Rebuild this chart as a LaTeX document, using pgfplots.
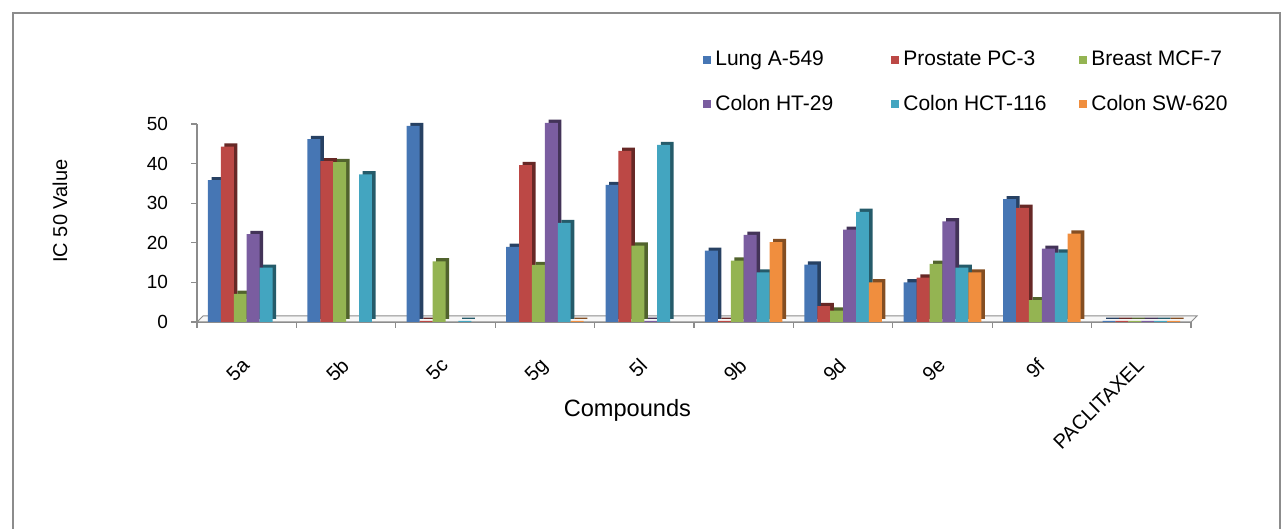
\documentclass[border=0pt]{standalone}
\usepackage{pgfplots}
\pgfplotsset{compat=1.18}
\usepackage{fontspec}
\setmainfont{Liberation Sans}
\definecolor{cA}{HTML}{4676B4}
\definecolor{cB}{HTML}{BC4845}
\definecolor{cC}{HTML}{94B452}
\definecolor{cD}{HTML}{7A5DA0}
\definecolor{cE}{HTML}{43A5C0}
\definecolor{cF}{HTML}{F08E3E}
\definecolor{frame}{HTML}{8C8C8C}
\begin{document}
\begin{tikzpicture}
\useasboundingbox (0,0) rectangle (643pt,264.5pt);
\draw[frame, line width=0.8pt] (6.5pt,-2pt) -- (6.5pt,258pt) -- (640pt,258pt) -- (640pt,-2pt);
\begin{axis}[
  at={(98.5pt,103.5pt)}, anchor=south west,
  scale only axis, width=497pt, height=99pt,
  xmin=-0.5, xmax=9.5, ymin=0, ymax=50,
  clip=false,
  axis x line*=bottom, axis y line*=left,
  axis line style={frame, line width=0.6pt},
  every tick/.style={frame, line width=0.6pt},
  tick align=outside,
  major tick length=3pt, minor tick length=3pt,
  xtick={0,...,9},
  xticklabels={5a,5b,5c,5g,5l,9b,9d,9e,9f,PACLITAXEL},
  major x tick style={draw=none},
  minor xtick={-0.5,0.5,...,9.5},
  ytick={0,10,...,50},
  /pgf/number format/assume math mode=true,
  tick label style={font=\fontsize{9.5}{11}\selectfont},
  xticklabel style={font=\fontsize{10}{12}\selectfont, xshift=-3pt, yshift=-9.5pt, rotate=45, anchor=north east},
  yticklabel style={xshift=-8pt},
  xlabel={Compounds},
  ylabel={IC 50 Value},
  label style={font=\fontsize{10.5}{12}\selectfont},
  every axis x label/.style={at={(axis description cs:0.433,0)}, yshift=-44pt, anchor=center, font=\fontsize{11.8}{13}\selectfont},
  every axis y label/.style={at={(axis description cs:0,0.56)}, xshift=-68.5pt, rotate=90, anchor=center},
  legend columns=3,
  legend cell align=left,
  legend image code/.code={\fill[#1] (0pt,-2pt) rectangle (4pt,2pt);},
  legend style={at={(axis description cs:0.509,1.39)}, anchor=north west,
    draw=none, fill=none, inner sep=0pt, row sep=9pt,
    font=\fontsize{10.5}{12}\selectfont},
]
% floor
\draw[frame, fill=gray!6, line width=0.5pt] (axis cs:-0.5,0) -- (axis cs:9.5,0) -- ([shift={(3pt,3pt)}]axis cs:9.5,0) -- ([shift={(3pt,3pt)}]axis cs:-0.5,0) -- cycle;
% shadows (3D depth)
\addplot[ybar, bar width=0.13, bar shift=-0.325, fill=cA!55!black, draw=none, xshift=1.8pt, yshift=1.6pt, forget plot] coordinates {(0,35.8) (1,46.2) (2,49.5) (3,19.0) (4,34.6) (5,18.0) (6,14.5) (7,10.0) (8,31.0) (9,0.3)};
\addplot[ybar, bar width=0.13, bar shift=-0.195, fill=cB!55!black, draw=none, xshift=1.8pt, yshift=1.6pt, forget plot] coordinates {(0,44.3) (1,40.6) (2,0.3) (3,39.6) (4,43.2) (5,0.3) (6,4.0) (7,11.2) (8,28.8) (9,0.3)};
\addplot[ybar, bar width=0.13, bar shift=-0.065, fill=cC!55!black, draw=none, xshift=1.8pt, yshift=1.6pt, forget plot] coordinates {(0,7.1) (1,40.4) (2,15.3) (3,14.4) (4,19.3) (5,15.5) (6,2.9) (7,14.7) (8,5.5) (9,0.3)};
\addplot[ybar, bar width=0.13, bar shift=0.065, fill=cD!55!black, draw=none, xshift=1.8pt, yshift=1.6pt, forget plot] coordinates {(0,22.2) (3,50.3) (4,0.3) (5,22.0) (6,23.3) (7,25.4) (8,18.5) (9,0.3)};
\addplot[ybar, bar width=0.13, bar shift=0.195, fill=cE!55!black, draw=none, xshift=1.8pt, yshift=1.6pt, forget plot] coordinates {(0,13.7) (1,37.3) (2,0.3) (3,25.0) (4,44.7) (5,12.5) (6,27.8) (7,13.7) (8,17.5) (9,0.3)};
\addplot[ybar, bar width=0.13, bar shift=0.325, fill=cF!55!black, draw=none, xshift=1.8pt, yshift=1.6pt, forget plot] coordinates {(3,0.3) (5,20.2) (6,10.0) (7,12.5) (8,22.3) (9,0.3)};
% front faces
\addplot[ybar, bar width=0.13, bar shift=-0.325, fill=cA, draw=none] coordinates {(0,35.8) (1,46.2) (2,49.5) (3,19.0) (4,34.6) (5,18.0) (6,14.5) (7,10.0) (8,31.0) (9,0.3)};
\addplot[ybar, bar width=0.13, bar shift=-0.195, fill=cB, draw=none] coordinates {(0,44.3) (1,40.6) (2,0.3) (3,39.6) (4,43.2) (5,0.3) (6,4.0) (7,11.2) (8,28.8) (9,0.3)};
\addplot[ybar, bar width=0.13, bar shift=-0.065, fill=cC, draw=none] coordinates {(0,7.1) (1,40.4) (2,15.3) (3,14.4) (4,19.3) (5,15.5) (6,2.9) (7,14.7) (8,5.5) (9,0.3)};
\addplot[ybar, bar width=0.13, bar shift=0.065, fill=cD, draw=none] coordinates {(0,22.2) (3,50.3) (4,0.3) (5,22.0) (6,23.3) (7,25.4) (8,18.5) (9,0.3)};
\addplot[ybar, bar width=0.13, bar shift=0.195, fill=cE, draw=none] coordinates {(0,13.7) (1,37.3) (2,0.3) (3,25.0) (4,44.7) (5,12.5) (6,27.8) (7,13.7) (8,17.5) (9,0.3)};
\addplot[ybar, bar width=0.13, bar shift=0.325, fill=cF, draw=none] coordinates {(3,0.3) (5,20.2) (6,10.0) (7,12.5) (8,22.3) (9,0.3)};
\legend{\makebox[86pt][l]{Lung A-549},\makebox[86pt][l]{Prostate PC-3},\makebox[60pt][l]{Breast MCF-7},\makebox[86pt][l]{Colon HT-29},\makebox[86pt][l]{Colon HCT-116},\makebox[60pt][l]{Colon SW-620}}
\end{axis}
\end{tikzpicture}
\end{document}
